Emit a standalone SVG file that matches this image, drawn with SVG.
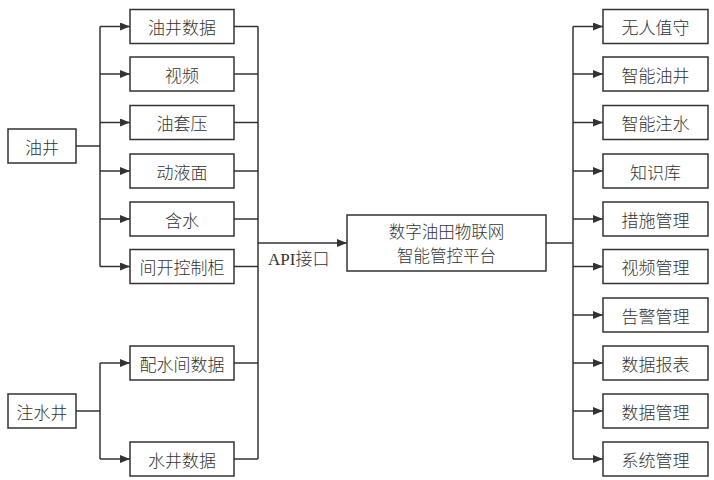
<svg xmlns="http://www.w3.org/2000/svg" width="714" height="480" viewBox="0 0 714 480">
<defs>
<marker id="ah" markerWidth="10" markerHeight="8" refX="10" refY="4" orient="auto" markerUnits="userSpaceOnUse">
<path d="M0,0 L10,4 L0,8 Z" fill="#333"/>
</marker>
<style>
rect{fill:#fff;stroke:#333;stroke-width:1.5}
text{font-family:"Noto Sans CJK SC","Liberation Serif",serif;font-size:17px;fill:#333;text-anchor:middle;dominant-baseline:central;font-weight:300}
.c line,.c path{stroke:#333;stroke-width:1.5;fill:none}
.a{marker-end:url(#ah)}
.api{font-family:"Liberation Serif","Noto Sans CJK SC",serif;text-anchor:start}
.pt{font-size:16.5px}
</style>
</defs>
<rect x="0" y="0" width="714" height="480" style="stroke:none"/>
<g class="c" id="connectors">
<line x1="76" y1="146" x2="100" y2="146"/>
<line x1="100" y1="26.5" x2="100" y2="266.5"/>
<line class="a" x1="100" y1="26.5" x2="130" y2="26.5"/>
<line class="a" x1="100" y1="74" x2="130" y2="74"/>
<line class="a" x1="100" y1="122.5" x2="130" y2="122.5"/>
<line class="a" x1="100" y1="171" x2="130" y2="171"/>
<line class="a" x1="100" y1="219" x2="130" y2="219"/>
<line class="a" x1="100" y1="266.5" x2="130" y2="266.5"/>
<line x1="76" y1="411" x2="100" y2="411"/>
<line x1="100" y1="363" x2="100" y2="459"/>
<line class="a" x1="100" y1="363" x2="130" y2="363"/>
<line class="a" x1="100" y1="459" x2="130" y2="459"/>
<line x1="234" y1="26.5" x2="258" y2="26.5"/>
<line x1="234" y1="74" x2="258" y2="74"/>
<line x1="234" y1="122.5" x2="258" y2="122.5"/>
<line x1="234" y1="171" x2="258" y2="171"/>
<line x1="234" y1="219" x2="258" y2="219"/>
<line x1="234" y1="266.5" x2="258" y2="266.5"/>
<line x1="234" y1="363" x2="258" y2="363"/>
<line x1="234" y1="459" x2="258" y2="459"/>
<line x1="258" y1="26.5" x2="258" y2="459"/>
<line class="a" x1="258" y1="243" x2="347" y2="243"/>
<line x1="546" y1="243" x2="573" y2="243"/>
<line x1="573" y1="26.5" x2="573" y2="459"/>
<line class="a" x1="573" y1="26.5" x2="603" y2="26.5"/>
<line class="a" x1="573" y1="74" x2="603" y2="74"/>
<line class="a" x1="573" y1="122.5" x2="603" y2="122.5"/>
<line class="a" x1="573" y1="171" x2="603" y2="171"/>
<line class="a" x1="573" y1="219" x2="603" y2="219"/>
<line class="a" x1="573" y1="266.5" x2="603" y2="266.5"/>
<line class="a" x1="573" y1="315" x2="603" y2="315"/>
<line class="a" x1="573" y1="363" x2="603" y2="363"/>
<line class="a" x1="573" y1="411" x2="603" y2="411"/>
<line class="a" x1="573" y1="459" x2="603" y2="459"/>
<text class="api" x="268" y="259">API接口</text>
</g>
<g id="youjing"><rect x="8" y="129" width="68" height="34"/><text x="42" y="146">油井</text></g>
<g id="zhushuijing"><rect x="8" y="394" width="68" height="34"/><text x="42" y="411">注水井</text></g>
<g id="m1"><rect x="130" y="9.5" width="104" height="34"/><text x="182" y="26.5">油井数据</text></g>
<g id="m2"><rect x="130" y="57" width="104" height="34"/><text x="182" y="74">视频</text></g>
<g id="m3"><rect x="130" y="105.5" width="104" height="34"/><text x="182" y="122.5">油套压</text></g>
<g id="m4"><rect x="130" y="154" width="104" height="34"/><text x="182" y="171">动液面</text></g>
<g id="m5"><rect x="130" y="202" width="104" height="34"/><text x="182" y="219">含水</text></g>
<g id="m6"><rect x="130" y="249.5" width="104" height="34"/><text x="182" y="266.5">间开控制柜</text></g>
<g id="m7"><rect x="130" y="346" width="104" height="34"/><text x="182" y="363">配水间数据</text></g>
<g id="m8"><rect x="130" y="442" width="104" height="34"/><text x="182" y="459">水井数据</text></g>
<g id="platform"><rect x="347" y="215" width="199" height="56"/><text class="pt" x="446.5" y="231">数字油田物联网</text><text class="pt" x="446.5" y="255">智能管控平台</text></g>
<g id="r1"><rect x="603" y="9.5" width="105" height="34"/><text x="655.5" y="26.5">无人值守</text></g>
<g id="r2"><rect x="603" y="57" width="105" height="34"/><text x="655.5" y="74">智能油井</text></g>
<g id="r3"><rect x="603" y="105.5" width="105" height="34"/><text x="655.5" y="122.5">智能注水</text></g>
<g id="r4"><rect x="603" y="154" width="105" height="34"/><text x="655.5" y="171">知识库</text></g>
<g id="r5"><rect x="603" y="202" width="105" height="34"/><text x="655.5" y="219">措施管理</text></g>
<g id="r6"><rect x="603" y="249.5" width="105" height="34"/><text x="655.5" y="266.5">视频管理</text></g>
<g id="r7"><rect x="603" y="298" width="105" height="34"/><text x="655.5" y="315">告警管理</text></g>
<g id="r8"><rect x="603" y="346" width="105" height="34"/><text x="655.5" y="363">数据报表</text></g>
<g id="r9"><rect x="603" y="394" width="105" height="34"/><text x="655.5" y="411">数据管理</text></g>
<g id="r10"><rect x="603" y="442" width="105" height="34"/><text x="655.5" y="459">系统管理</text></g>
</svg>
